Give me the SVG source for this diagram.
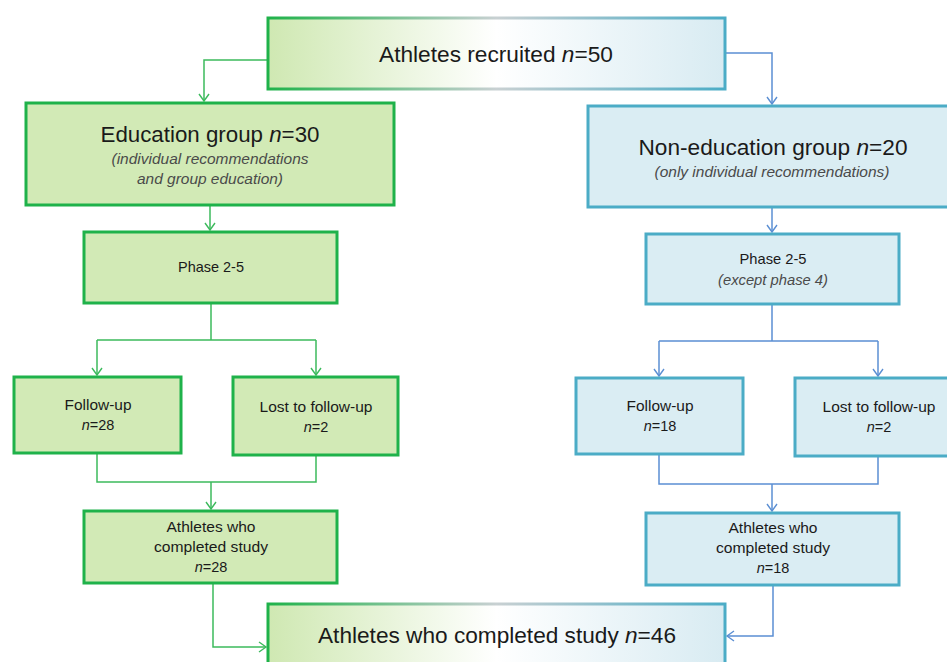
<svg xmlns="http://www.w3.org/2000/svg" width="947" height="662" viewBox="0 0 947 662">
<defs>
<linearGradient id="gfill" x1="0" y1="0" x2="1" y2="0">
<stop offset="0" stop-color="#cfe8b2"/>
<stop offset="0.5" stop-color="#ffffff"/>
<stop offset="1" stop-color="#d8ebf2"/>
</linearGradient>
<linearGradient id="gstroke" x1="0" y1="0" x2="1" y2="0">
<stop offset="0" stop-color="#1fb24a"/>
<stop offset="0.5" stop-color="#c8d0d2"/>
<stop offset="1" stop-color="#4bacc6"/>
</linearGradient>
<marker id="ag" markerWidth="12" markerHeight="12" refX="10" refY="6" orient="auto" markerUnits="userSpaceOnUse" viewBox="0 0 12 12" overflow="visible">
<path d="M3,1 L10,6 L3,11" fill="none" stroke="#3cba5c" stroke-width="1.4"/>
</marker>
<marker id="ab" markerWidth="12" markerHeight="12" refX="10" refY="6" orient="auto" markerUnits="userSpaceOnUse" viewBox="0 0 12 12" overflow="visible">
<path d="M3,1 L10,6 L3,11" fill="none" stroke="#5b8fd3" stroke-width="1.4"/>
</marker>
</defs>
<style>
.g{fill:#d2eab6;stroke:#1fb24a;stroke-width:3}
.b{fill:#daedf3;stroke:#4bacc6;stroke-width:3}
.grad{fill:url(#gfill);stroke:url(#gstroke);stroke-width:3}
.cg{fill:none;stroke:#3cba5c;stroke-width:1.5}
.cb{fill:none;stroke:#5b8fd3;stroke-width:1.5}
text{font-family:"Liberation Sans",Arial,sans-serif;fill:#1a1a1a;text-anchor:middle}
.big{font-size:22px}
.sm{font-size:14.5px}
.sub{font-size:14.5px;font-style:italic;fill:#4a4a4a}
.i{font-style:italic}
</style>

<g id="connectors">
<path class="cg" d="M268,60 H204 V101" marker-end="url(#ag)"/>
<path class="cb" d="M725,53 H772 V104" marker-end="url(#ab)"/>
<path class="cg" d="M210,205 V230" marker-end="url(#ag)"/>
<path class="cb" d="M772,207 V232" marker-end="url(#ab)"/>
<path class="cg" d="M211,303 V340 M97,340 H316"/>
<path class="cg" d="M97,340 V375" marker-end="url(#ag)"/>
<path class="cg" d="M316,340 V375" marker-end="url(#ag)"/>
<path class="cb" d="M772,304 V341 M659,341 H878"/>
<path class="cb" d="M659,341 V376" marker-end="url(#ab)"/>
<path class="cb" d="M878,341 V376" marker-end="url(#ab)"/>
<path class="cg" d="M97,453 V482 H316 V455"/>
<path class="cg" d="M211,482 V509" marker-end="url(#ag)"/>
<path class="cb" d="M659,454 V484 H878 V456"/>
<path class="cb" d="M772,484 V511" marker-end="url(#ab)"/>
<path class="cg" d="M213,583 V647 H266" marker-end="url(#ag)"/>
<path class="cb" d="M773,585 V636 H727" marker-end="url(#ab)"/>
</g>

<g id="recruited">
<rect class="grad" x="268" y="18" width="457" height="71"/>
<text class="big" x="496" y="62" textLength="234" lengthAdjust="spacingAndGlyphs">Athletes recruited <tspan class="i">n</tspan>=50</text>
</g>

<g id="education">
<rect class="g" x="26" y="103" width="368" height="102"/>
<text class="big" x="210" y="142" textLength="219" lengthAdjust="spacingAndGlyphs">Education group <tspan class="i">n</tspan>=30</text>
<text class="sub" x="210" y="164" textLength="197" lengthAdjust="spacingAndGlyphs">(individual recommendations</text>
<text class="sub" x="210" y="184" textLength="146" lengthAdjust="spacingAndGlyphs">and group education)</text>
</g>

<g id="noneducation">
<rect class="b" x="588" y="106" width="362" height="101"/>
<text class="big" x="773" y="155" textLength="269" lengthAdjust="spacingAndGlyphs">Non-education group <tspan class="i">n</tspan>=20</text>
<text class="sub" x="772" y="177" textLength="235" lengthAdjust="spacingAndGlyphs">(only individual recommendations)</text>
</g>

<g id="phase-edu">
<rect class="g" x="84" y="232" width="253" height="71"/>
<text class="sm" x="211" y="272" textLength="66" lengthAdjust="spacingAndGlyphs">Phase 2-5</text>
</g>

<g id="phase-nonedu">
<rect class="b" x="646" y="234" width="253" height="70"/>
<text class="sm" x="773" y="264" textLength="67" lengthAdjust="spacingAndGlyphs">Phase 2-5</text>
<text class="sub" x="773" y="285" textLength="110" lengthAdjust="spacingAndGlyphs">(except phase 4)</text>
</g>

<g id="followup-edu">
<rect class="g" x="14" y="377" width="167" height="76"/>
<text class="sm" x="98" y="410" textLength="67" lengthAdjust="spacingAndGlyphs">Follow-up</text>
<text class="sm" x="98" y="430"><tspan class="i">n</tspan>=28</text>
</g>

<g id="lost-edu">
<rect class="g" x="233" y="377" width="165" height="78"/>
<text class="sm" x="316" y="412" textLength="113" lengthAdjust="spacingAndGlyphs">Lost to follow-up</text>
<text class="sm" x="316" y="432"><tspan class="i">n</tspan>=2</text>
</g>

<g id="followup-nonedu">
<rect class="b" x="576" y="378" width="167" height="76"/>
<text class="sm" x="660" y="411" textLength="67" lengthAdjust="spacingAndGlyphs">Follow-up</text>
<text class="sm" x="660" y="431"><tspan class="i">n</tspan>=18</text>
</g>

<g id="lost-nonedu">
<rect class="b" x="795" y="378" width="160" height="78"/>
<text class="sm" x="879" y="412" textLength="113" lengthAdjust="spacingAndGlyphs">Lost to follow-up</text>
<text class="sm" x="879" y="432"><tspan class="i">n</tspan>=2</text>
</g>

<g id="completed-edu">
<rect class="g" x="84" y="511" width="253" height="72"/>
<text class="sm" x="211" y="532" textLength="89" lengthAdjust="spacingAndGlyphs">Athletes who</text>
<text class="sm" x="211" y="552" textLength="114" lengthAdjust="spacingAndGlyphs">completed study</text>
<text class="sm" x="211" y="572"><tspan class="i">n</tspan>=28</text>
</g>

<g id="completed-nonedu">
<rect class="b" x="646" y="513" width="253" height="72"/>
<text class="sm" x="773" y="533" textLength="89" lengthAdjust="spacingAndGlyphs">Athletes who</text>
<text class="sm" x="773" y="553" textLength="114" lengthAdjust="spacingAndGlyphs">completed study</text>
<text class="sm" x="773" y="573"><tspan class="i">n</tspan>=18</text>
</g>

<g id="completed-all">
<rect class="grad" x="268" y="604" width="457" height="70"/>
<text class="big" x="497" y="643" textLength="358" lengthAdjust="spacingAndGlyphs">Athletes who completed study <tspan class="i">n</tspan>=46</text>
</g>
</svg>
